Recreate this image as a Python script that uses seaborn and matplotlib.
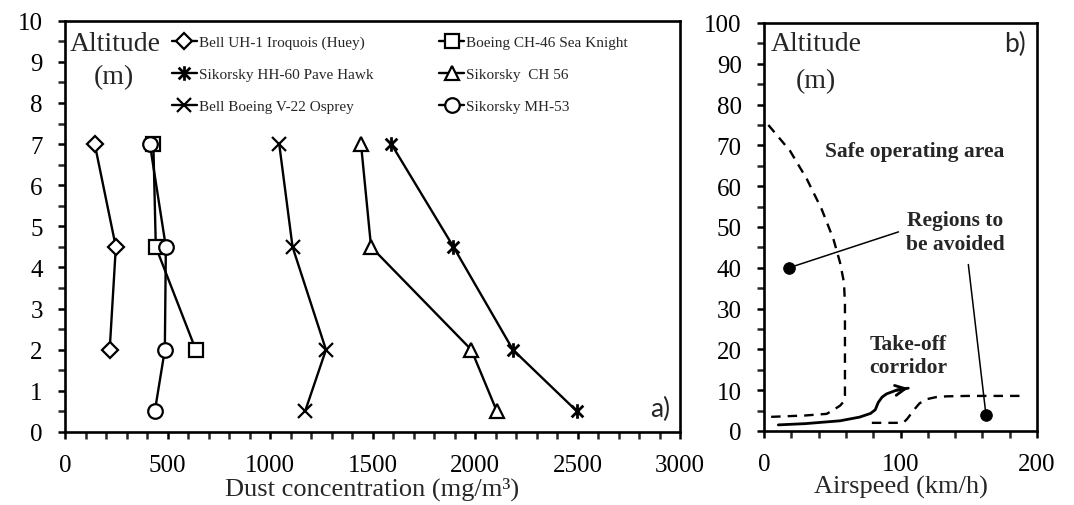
import numpy as np
import pandas as pd
import matplotlib
matplotlib.use("Agg")
import matplotlib.pyplot as plt
import seaborn as sns
from matplotlib.path import Path
from matplotlib.ticker import MultipleLocator

# ---------------- Panel a) data ----------------
huey_label = "Bell UH-1 Iroquois (Huey)"
huey_alt = [7, 4.5, 2]
huey_conc = [145, 248, 218]

pavehawk_label = "Sikorsky HH-60 Pave Hawk"
pavehawk_alt = [7, 4.5, 2, 0.5]
pavehawk_conc = [1592, 1895, 2185, 2498]

osprey_label = "Bell Boeing V-22 Osprey"
osprey_alt = [7, 4.5, 2, 0.5]
osprey_conc = [1045, 1110, 1273, 1171]

seaknight_label = "Boeing CH-46 Sea Knight"
seaknight_alt = [7, 4.5, 2]
seaknight_conc = [431, 443, 638]

ch56_label = "Sikorsky  CH 56"
ch56_alt = [7, 4.5, 2, 0.5]
ch56_conc = [1444, 1493, 1982, 2107]

mh53_label = "Sikorsky MH-53"
mh53_alt = [7, 4.5, 2, 0.5]
mh53_conc = [414, 492, 487, 438]

# ---------------- Panel b) data ----------------
safe_boundary_speed = [3.2, 19.0, 31.3, 42.2, 50.8, 55.7, 58.6, 59.3, 59.3, 58.6, 55.7, 50.0, 45.9, 30.0, 0.0]
safe_boundary_alt = [75.0, 68.7, 61.8, 54.4, 47.1, 41.3, 36.4, 31.0, 8.7, 7.3, 6.2, 5.0, 4.2, 3.8, 3.4]

low_boundary_speed = [79, 102, 105, 109.4, 114, 119.2, 126, 133.9, 150, 190]
low_boundary_alt = [2.0, 2.0, 3.0, 5.0, 6.8, 7.8, 8.3, 8.5, 8.6, 8.6]

takeoff_speed = [10.5, 30, 55.7, 70, 78, 81.5, 83.7, 86.5, 89.8, 97, 105.7]
takeoff_alt = [1.5, 1.8, 2.5, 3.4, 4.3, 5.2, 7.0, 8.3, 9.1, 10.0, 10.5]

avoid_dot_speed = [18.3, 162.6]
avoid_dot_alt = [40.0, 4.0]
leader1_speed = [18.3, 98.5]
leader1_alt = [40.0, 48.8]
leader2_speed = [162.6, 149.7]
leader2_alt = [4.0, 40.8]

# ---------------- Styling ----------------
sns.set_style("ticks")
plt.rcParams["font.family"] = ["Liberation Serif", "DejaVu Serif"]
plt.rcParams["mathtext.fontset"] = "stix"

star_x = Path(
    [(-1, -1), (1, 1), (-1, 1), (1, -1), (0, -1.25), (0, 1.25)],
    [Path.MOVETO, Path.LINETO, Path.MOVETO, Path.LINETO, Path.MOVETO, Path.LINETO],
)

fig = plt.figure(figsize=(10.74, 5.06), dpi=100)
ax1 = fig.add_axes([65 / 1074, 73 / 506, 615 / 1074, 411.3 / 506])
ax2 = fig.add_axes([764 / 1074, 74 / 506, 273 / 1074, 408 / 506])

LW = 1.7
MEW = 1.6
common = dict(color="black", linewidth=LW, markeredgecolor="black",
              markeredgewidth=MEW, markerfacecolor="white",
              sort=False, estimator=None, ax=ax1)

sns.lineplot(x=huey_conc, y=huey_alt, marker="D", markersize=8, label=huey_label, **common)
sns.lineplot(x=pavehawk_conc, y=pavehawk_alt, marker=star_x, markersize=10.5, label=pavehawk_label,
             **{**common, "markeredgewidth": 2.0})
sns.lineplot(x=osprey_conc, y=osprey_alt, marker="x", markersize=10, label=osprey_label, **common)
sns.lineplot(x=seaknight_conc, y=seaknight_alt, marker="s", markersize=10.5, label=seaknight_label, **common)
sns.lineplot(x=ch56_conc, y=ch56_alt, marker="^", markersize=10.5, label=ch56_label, **common)
sns.lineplot(x=mh53_conc, y=mh53_alt, marker="o", markersize=10.5, label=mh53_label, **common)

handles, labels = ax1.get_legend_handles_labels()
leg = ax1.legend(handles, labels, ncol=2, loc="upper left", bbox_to_anchor=(0.157, 0.99),
                 frameon=False, fontsize=11, handlelength=1.6, handletextpad=0.15,
                 labelspacing=1.2, columnspacing=4.3, borderaxespad=0.3)

ax1.set_xlim(0, 3000)
ax1.set_ylim(0, 10)
ax1.xaxis.set_major_locator(MultipleLocator(500))
ax1.xaxis.set_minor_locator(MultipleLocator(100))
ax1.yaxis.set_major_locator(MultipleLocator(1))
ax1.yaxis.set_minor_locator(MultipleLocator(0.5))
ax1.set_xlabel("Dust concentration (mg/m³)", fontsize=19, labelpad=0)
ax1.set_ylabel("")
ax1.text(0.081, 0.944, "Altitude", transform=ax1.transAxes, fontsize=20, ha="center", va="center")
ax1.text(0.080, 0.864, "(m)", transform=ax1.transAxes, fontsize=20, ha="center", va="center")
ax1.text(0.967, 0.056, "a)", transform=ax1.transAxes, fontsize=19, ha="center", va="center",
         family=["Lato", "DejaVu Sans"])

# Panel b
dash = (4, 3)
sns.lineplot(x=safe_boundary_speed, y=safe_boundary_alt, sort=False, estimator=None, ax=ax2,
             color="black", linewidth=1.7, linestyle=(0, dash))
sns.lineplot(x=low_boundary_speed, y=low_boundary_alt, sort=False, estimator=None, ax=ax2,
             color="black", linewidth=1.7, linestyle=(0, dash))
sns.lineplot(x=takeoff_speed, y=takeoff_alt, sort=False, estimator=None, ax=ax2,
             color="black", linewidth=2.0)
ax2.annotate("", xy=(takeoff_speed[-1], takeoff_alt[-1]), xytext=(takeoff_speed[-2], takeoff_alt[-2]),
             arrowprops=dict(arrowstyle="->", lw=2.0, color="black", mutation_scale=18,
                             shrinkA=0, shrinkB=0))
sns.lineplot(x=leader1_speed, y=leader1_alt, sort=False, estimator=None, ax=ax2, color="black", linewidth=1.1)
sns.lineplot(x=leader2_speed, y=leader2_alt, sort=False, estimator=None, ax=ax2, color="black", linewidth=1.1)
sns.scatterplot(x=avoid_dot_speed, y=avoid_dot_alt, ax=ax2, color="black", s=70, edgecolor="black", zorder=5)

ax2.text(110.5, 68.6, "Safe operating area", fontsize=15.5, fontweight="bold", ha="center", va="center")
ax2.text(140, 48.8, "Regions to\nbe avoided", fontsize=15.5, fontweight="bold", ha="center", va="center",
         linespacing=1.25)
ax2.text(105.5, 18.6, "Take-off\ncorridor", fontsize=15.5, fontweight="bold", ha="center", va="center",
         linespacing=1.2)

ax2.set_xlim(0, 200)
ax2.set_ylim(0, 100)
ax2.xaxis.set_major_locator(MultipleLocator(100))
ax2.xaxis.set_minor_locator(MultipleLocator(20))
ax2.yaxis.set_major_locator(MultipleLocator(10))
ax2.yaxis.set_minor_locator(MultipleLocator(5))
ax2.set_xlabel("Airspeed (km/h)", fontsize=19, labelpad=0)
ax2.text(0.19, 0.949, "Altitude", transform=ax2.transAxes, fontsize=20, ha="center", va="center")
ax2.text(0.19, 0.86, "(m)", transform=ax2.transAxes, fontsize=20, ha="center", va="center")
ax2.text(0.92, 0.949, "b)", transform=ax2.transAxes, fontsize=19, ha="center", va="center",
         family=["Lato", "DejaVu Sans"])

for ax in (ax1, ax2):
    for s in ax.spines.values():
        s.set_visible(True)
        s.set_linewidth(1.9)
        s.set_color("black")
    ax.tick_params(which="major", direction="out", length=5, width=1.8, labelsize=18, colors="black")
    ax.tick_params(which="minor", direction="out", length=5, width=1.8)
    ax.tick_params(axis="x", which="major", pad=11)
    ax.tick_params(axis="y", which="major", pad=11)
    ax.tick_params(axis="x", which="both", top=False)
    ax.tick_params(axis="y", which="both", right=False)

fig.savefig("out.png", dpi=100)
